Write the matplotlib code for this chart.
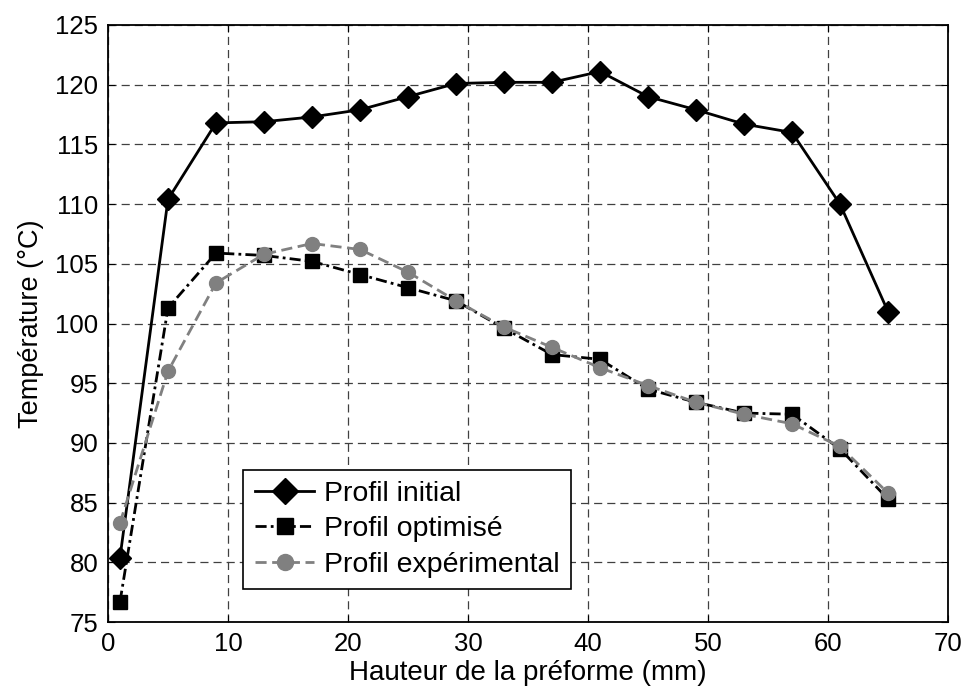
import matplotlib

matplotlib.use("Agg")
import matplotlib.pyplot as plt

plt.rcParams["font.family"] = ["Liberation Sans", "DejaVu Sans"]

# hauteur (mm) et températures (°C)
hauteur = [1, 5, 9, 13, 17, 21, 25, 29, 33, 37, 41, 45, 49, 53, 57, 61, 65]
profil_initial = [80.4, 110.4, 116.8, 116.9, 117.3, 117.9, 119.0, 120.1, 120.2,
                  120.2, 121.1, 119.0, 117.9, 116.7, 116.0, 110.0, 101.0]
profil_optimise = [76.7, 101.3, 105.9, 105.7, 105.2, 104.1, 103.0, 101.9, 99.6,
                   97.4, 97.0, 94.5, 93.4, 92.5, 92.4, 89.5, 85.3]
profil_experimental = [83.3, 96.0, 103.4, 105.8, 106.7, 106.2, 104.3, 101.9, 99.7,
                       98.0, 96.3, 94.8, 93.4, 92.4, 91.6, 89.7, 85.8]

fig = plt.figure(figsize=(9.64, 6.93), dpi=100)
ax = fig.add_axes([108 / 964, 1 - 622 / 693, 840 / 964, 597 / 693])

ax.plot(hauteur, profil_initial, "-", color="black", lw=2, marker="D",
        ms=11.5, label="Profil initial", zorder=3)
ax.plot(hauteur, profil_optimise, color="black", lw=2, ls=(0, (4, 1.5, 1, 1.5)),
        marker="s", ms=10, label="Profil optimisé", zorder=3)
ax.plot(hauteur, profil_experimental, color="#808080", lw=2, ls=(0, (4, 2)),
        marker="o", ms=10, label="Profil expérimental", zorder=4)

ax.set_xlim(0, 70)
ax.set_ylim(75, 125)
ax.set_xticks(range(0, 71, 10))
ax.set_yticks(range(75, 126, 5))
ax.grid(True, color="#404040", ls=(0, (6.5, 4)), lw=0.9)
ax.tick_params(direction="in", top=True, right=True, labelsize=18.5, length=5, pad=7)
for s in ax.spines.values():
    s.set_linewidth(1.3)

ax.set_xlabel("Hauteur de la préforme (mm)", fontsize=20, labelpad=3)
ax.set_ylabel("Température (°C)", fontsize=19.5, labelpad=8)

leg = ax.legend(loc="lower left", bbox_to_anchor=(0.161, 0.055), fontsize=20.5,
                fancybox=False, framealpha=1, edgecolor="black",
                handlelength=2.1, handletextpad=0.35, borderpad=0.4,
                labelspacing=0.33, borderaxespad=0, markerscale=1.15)
leg.get_frame().set_linewidth(1.2)

fig.savefig("out.png", dpi=100)
